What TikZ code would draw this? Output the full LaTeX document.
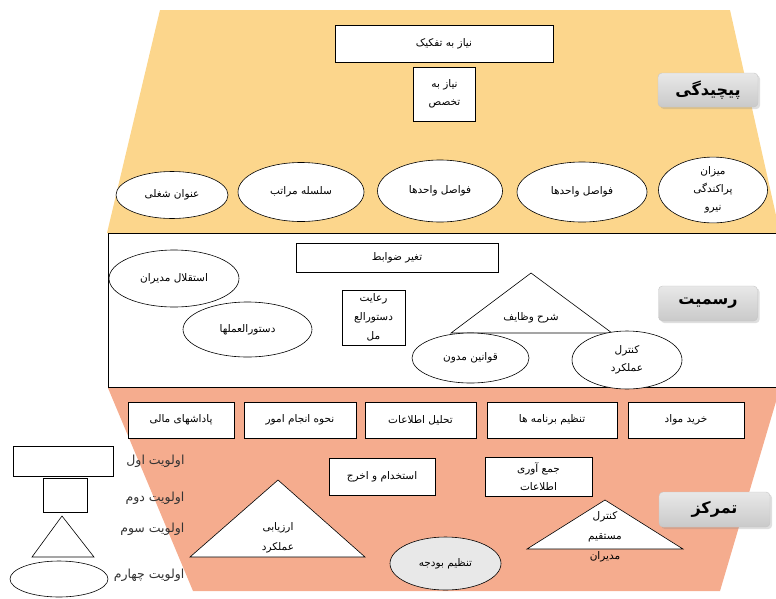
\documentclass[tikz,border=0pt]{standalone}
\usepackage{fontspec}
\newfontfamily\farsifont[Script=Arabic]{DejaVu Sans}
\TeXXeTstate=1
\newcommand{\fa}[1]{\beginR #1\endR}
\usetikzlibrary{shapes.geometric,shadows}

\definecolor{zoneyellow}{RGB}{252,214,140}
\definecolor{zonesalmon}{RGB}{245,172,142}

\begin{document}
\begin{tikzpicture}
[x=1pt,y=-1pt,
 box/.style={rectangle,draw=black,fill=white,line width=0.6pt,inner sep=1pt,
    align=center,font=\farsifont\fontsize{10.5}{18}\selectfont},
 oval/.style={ellipse,draw=black,fill=white,line width=0.6pt,inner sep=0pt,
    align=center,font=\farsifont\fontsize{10.5}{18}\selectfont},
 tri/.style={draw=black,fill=white,line width=0.6pt},
 txt/.style={align=center,font=\farsifont\fontsize{10.5}{19}\selectfont},
 tag/.style={rectangle,rounded corners=4pt,top color=gray!18,bottom color=gray!42,
    draw=gray!45,drop shadow={opacity=0.25},
    font=\farsifont\bfseries\fontsize{16}{18}\selectfont},
 legtext/.style={anchor=east,text=black!80,font=\farsifont\fontsize{12.5}{14}\selectfont}]
\useasboundingbox (0,0) rectangle (776,598);

% zones
\fill[zoneyellow] (160,10) -- (730,10) -- (780,233) -- (107,233) -- cycle;
\fill[zonesalmon] (108,388) -- (780,388) -- (720,591) -- (193,591) -- cycle;
\draw[fill=white,line width=0.6pt] (108,233) rectangle (790,387);

% pichidegi
\node[box,minimum width=218pt,minimum height=37pt] (tafkik) at (444,43.5) {\fa{نیاز به تفکیک}};
\node[box,minimum width=62pt,minimum height=54pt] (takhasos) at (444.5,94) {\fa{نیاز به}\\\fa{تخصص}};
\node[oval,minimum width=112pt,minimum height=47pt] (onvan) at (172,195) {\fa{عنوان شغلی}};
\node[oval,minimum width=126pt,minimum height=59pt] (selsele) at (301,192) {\fa{سلسله مراتب}};
\node[oval,minimum width=125pt,minimum height=62pt] (favasela) at (440,191) {\fa{فواصل واحدها}};
\node[oval,minimum width=130pt,minimum height=60pt] (favaselb) at (582,192) {\fa{فواصل واحدها}};
\node[oval,minimum width=109pt,minimum height=54pt,font=\farsifont\fontsize{10.5}{18}\selectfont] (mizan) at (713,190) {\fa{میزان}\\\fa{پراکندگی}\\\fa{نیرو}};
\node[tag,minimum width=100pt,minimum height=34pt] (pichidegi) at (708,90) {\fa{پیچیدگی}};

% rasmiat
\node[box,minimum width=202pt,minimum height=29pt] (zavabet) at (397,257.5) {\fa{تغیر ضوابط}};
\node[oval,minimum width=130pt,minimum height=57pt] (esteghlal) at (174,278.5) {\fa{استقلال مدیران}};
\node[box,minimum width=63pt,minimum height=55pt,font=\farsifont\fontsize{10.5}{19}\selectfont] (roayat) at (373.5,317.5) {\fa{رعایت}\\\fa{دستورالع}\\\fa{مل}};
\node[oval,minimum width=129pt,minimum height=55pt] (dastur) at (247.5,329.5) {\fa{دستورالعملها}};
\draw[tri] (531,273) -- (451,333) -- (612,333) -- cycle;
\node[txt] (sharh) at (531,318) {\fa{شرح وظایف}};
\node[oval,minimum width=117pt,minimum height=50pt] (ghavanin) at (470.5,358) {\fa{قوانین مدون}};
\node[oval,minimum width=110pt,minimum height=58pt] (amalkard) at (627,360) {\fa{کنترل}\\\fa{عملکرد}};
\node[tag,minimum width=99pt,minimum height=35pt] (rasmiat) at (708,303.5) {\fa{رسمیت}};

% tamarkoz
\node[box,minimum width=106pt,minimum height=36pt] (padash) at (181,420) {\fa{پاداشهای مالی}};
\node[box,minimum width=112pt,minimum height=36pt] (nahve) at (300,420) {\fa{نحوه انجام امور}};
\node[box,minimum width=111pt,minimum height=36pt] (tahlil) at (420.5,420) {\fa{تحلیل اطلاعات}};
\node[box,minimum width=130pt,minimum height=36pt] (barname) at (552,420) {\fa{تنظیم برنامه ها}};
\node[box,minimum width=116pt,minimum height=36pt] (kharid) at (686,420) {\fa{خرید مواد}};
\node[box,minimum width=106pt,minimum height=37pt] (estekhdam) at (382,476.5) {\fa{استخدام و اخرج}};
\node[box,minimum width=107pt,minimum height=39pt] (jam) at (538.5,476.5) {\fa{جمع آوری}\\\fa{اطلاعات}};
\draw[tri] (278,480) -- (190,557) -- (365,557) -- cycle;
\node[txt,font=\farsifont\fontsize{10.5}{20}\selectfont] (arzyabi) at (278,538) {\fa{ارزیابی}\\\fa{عملکرد}};
\node[oval,fill=gray!18,minimum width=111pt,minimum height=53pt] (budje) at (445.5,563.5) {\fa{تنظیم بودجه}};
\draw[tri] (605,500) -- (527,549) -- (683,549) -- cycle;
\node[txt,font=\farsifont\fontsize{10.5}{20}\selectfont] (mostaghim) at (605,537) {\fa{کنترل}\\\fa{مستقیم}\\\fa{مدیران}};
\node[tag,minimum width=111pt,minimum height=35pt] (tamarkoz) at (714.5,509.5) {\fa{تمرکز}};

% legend
\node[box,minimum width=100pt,minimum height=30pt] (avval) at (63,461) {};
\node[box,minimum width=44pt,minimum height=34pt] (dovvom) at (65,495) {};
\draw[tri] (62,516) -- (32,557) -- (94,557) -- cycle;
\node[oval,minimum width=98pt,minimum height=36pt] (chaharom) at (59,579) {};
\node[legtext] (lavval) at (188,461) {\fa{اولویت اول}};
\node[legtext] (ldovvom) at (188,498) {\fa{اولویت دوم}};
\node[legtext] (lsevvom) at (188,529) {\fa{اولویت سوم}};
\node[legtext] (lchaharom) at (188,575) {\fa{اولویت چهارم}};
\end{tikzpicture}
\end{document}
